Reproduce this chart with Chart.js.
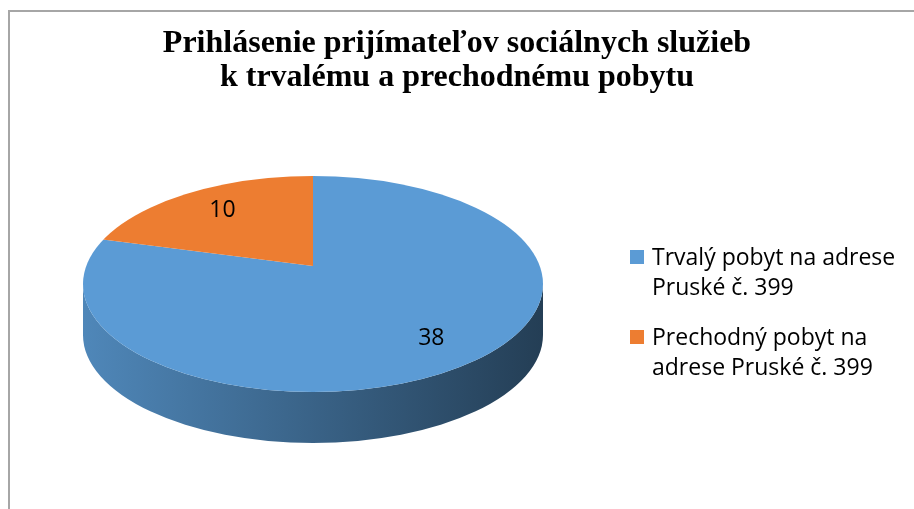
<!DOCTYPE html>
<html>
<head>
<meta charset="utf-8">
<script src="https://cdn.jsdelivr.net/npm/chart.js@4.4.1/dist/chart.umd.min.js"></script>
<style>
  html, body { margin: 0; padding: 0; background: #fff; }
  #wrap { width: 914px; height: 509px; }
</style>
</head>
<body>
<div id="wrap"><canvas id="chart" width="914" height="509"></canvas></div>
<script>
// data
const titleLines = ['Prihlásenie prijímateľov sociálnych služieb', 'k trvalému a prechodnému pobytu'];
const labels = [
  ['Trvalý pobyt na adrese', 'Pruské č. 399'],
  ['Prechodný pobyt na', 'adrese Pruské č. 399'],
];
const values = [38, 10];
const colors = ['#5b9bd5', '#ed7d31'];

// layout of the tilted pie (screen px); apexY fakes the perspective of the 3D view
const PIE = { x: 313, y: 284, rx: 230, ry: 108, depth: 51, apexY: 266, cover: 1.35, labelPos: 0.75 };
const LEGEND = { x: 630, y: 250, box: 14, textGap: 8, baseline: 15, lineH: 30, itemGap: 20 };
const TEXT_FONT = '"Open Sans", "Noto Sans", sans-serif';

function shade(hex, k) {
  const n = parseInt(hex.slice(1), 16);
  const r = Math.round(((n >> 16) & 255) * k);
  const g = Math.round(((n >> 8) & 255) * k);
  const b = Math.round((n & 255) * k);
  return `rgb(${r},${g},${b})`;
}

// point on the top face along a slice's middle angle, measured from the apex
function labelPoint(mid) {
  const u0 = 0, v0 = (PIE.apexY - PIE.y) / PIE.ry;
  const du = Math.cos(mid), dv = Math.sin(mid);
  const B = 2 * (u0 * du + v0 * dv);
  const C = u0 * u0 + v0 * v0 - 1;
  const t = (-B + Math.sqrt(B * B - 4 * C)) / 2;
  return {
    x: PIE.x + du * PIE.rx * t * PIE.labelPos,
    y: PIE.apexY + dv * PIE.ry * t * PIE.labelPos,
  };
}

const pie3d = {
  id: 'pie3d',
  beforeDraw(chart) {
    const ctx = chart.ctx;
    ctx.save();
    ctx.strokeStyle = '#a6a6a6';
    ctx.lineWidth = 2;
    ctx.strokeRect(9, 11, 930, 520);
    ctx.restore();
  },
  beforeDatasetsDraw(chart) {
    const ctx = chart.ctx;
    const meta = chart.getDatasetMeta(0);
    const a0 = meta.data[0];
    if (!a0) return;

    // side walls (front half only)
    meta.data.forEach((arc, i) => {
      const s = arc.startAngle, e = arc.endAngle;
      for (let k = -1; k <= 1; k++) {
        const a1 = Math.max(s, 2 * Math.PI * k);
        const a2 = Math.min(e, 2 * Math.PI * k + Math.PI);
        if (a2 <= a1) continue;
        const grad = ctx.createLinearGradient(PIE.x - PIE.rx, 0, PIE.x + PIE.rx, 0);
        grad.addColorStop(0, shade(colors[i], 0.87));
        grad.addColorStop(1, shade(colors[i], 0.4));
        ctx.beginPath();
        ctx.ellipse(PIE.x, PIE.y, PIE.rx, PIE.ry, 0, a1, a2, false);
        ctx.ellipse(PIE.x, PIE.y + PIE.depth, PIE.rx, PIE.ry, 0, a2, a1, true);
        ctx.closePath();
        ctx.fillStyle = grad;
        ctx.fill();
      }
    });

    // top face: oversized squashed pie centred on the apex, clipped to the rim ellipse
    const r = a0.outerRadius;
    ctx.save();
    ctx.beginPath();
    ctx.ellipse(PIE.x, PIE.y, PIE.rx, PIE.ry, 0, 0, 2 * Math.PI);
    ctx.clip();
    ctx.translate(PIE.x, PIE.apexY);
    ctx.scale(PIE.cover * PIE.rx / r, PIE.cover * PIE.ry / r);
    ctx.translate(-a0.x, -a0.y);
  },
  afterDatasetsDraw(chart) {
    const ctx = chart.ctx;
    ctx.restore();
    const meta = chart.getDatasetMeta(0);

    // data labels
    ctx.save();
    ctx.font = `23px ${TEXT_FONT}`;
    ctx.fillStyle = '#000';
    ctx.textAlign = 'center';
    ctx.textBaseline = 'middle';
    meta.data.forEach((arc, i) => {
      const p = labelPoint((arc.startAngle + arc.endAngle) / 2);
      ctx.fillText(String(values[i]), p.x, p.y);
    });

    // legend
    ctx.textAlign = 'left';
    ctx.textBaseline = 'alphabetic';
    let y = LEGEND.y;
    labels.forEach((lines, i) => {
      ctx.fillStyle = colors[i];
      ctx.fillRect(LEGEND.x, y, LEGEND.box, LEGEND.box);
      ctx.fillStyle = '#000';
      lines.forEach((t, j) => {
        ctx.fillText(t, LEGEND.x + LEGEND.box + LEGEND.textGap, y + LEGEND.baseline + j * LEGEND.lineH);
      });
      y += lines.length * LEGEND.lineH + LEGEND.itemGap;
    });
    ctx.restore();
  },
};

new Chart(document.getElementById('chart'), {
  type: 'pie',
  data: {
    labels: labels,
    datasets: [{
      data: values,
      backgroundColor: colors,
      borderWidth: 0,
      clip: false,
    }],
  },
  options: {
    responsive: false,
    animation: false,
    events: [],
    layout: { padding: 0 },
    plugins: {
      legend: { display: false },
      tooltip: { enabled: false },
      title: {
        display: true,
        text: titleLines,
        color: '#000',
        font: { family: '"Liberation Serif", "Times New Roman", serif', size: 32, weight: 'bold', lineHeight: 1.05 },
        padding: { top: 27, bottom: 10 },
      },
    },
  },
  plugins: [pie3d],
});
</script>
</body>
</html>
